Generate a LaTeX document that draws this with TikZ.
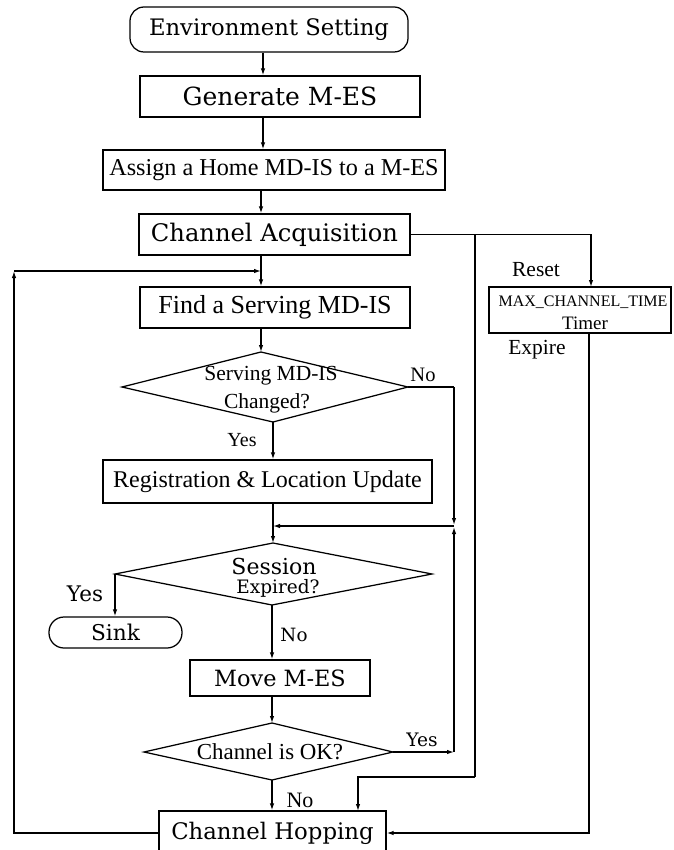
\documentclass[tikz,border=0pt]{standalone}
\usepackage{fontspec}
\setmainfont{Liberation Serif}
\newfontfamily\csfont{DejaVu Serif}
\usetikzlibrary{arrows.meta}
\newcommand\tm[1]{\fontsize{#1}{#1}\selectfont}
\newcommand\cs[1]{\csfont\fontsize{#1}{#1}\selectfont}

\begin{document}
\begin{tikzpicture}[x=1pt,y=-1pt,
  line width=1.25pt,
  box/.style={draw, rectangle, inner sep=0pt},
  term/.style={draw, rectangle, rounded corners=14pt, inner sep=0pt},
  lbl/.style={inner sep=0pt},
  arr/.style={-{Latex[length=7pt,width=4.5pt]}}
]
\useasboundingbox (0,0) rectangle (673,850);
\clip (0,0) rectangle (673,850);

% spine columns
\coordinate (cA) at (263,0);
\coordinate (cB) at (261,0);
\coordinate (cC) at (273,0);
\coordinate (cD) at (272,0);

% main column of steps
\node[term, minimum width=278, minimum height=45] (env) at (269,29.5) {\cs{22.7}Environment Setting};
\node[box, minimum width=280, minimum height=41] (gen) at (280,96.5) {\cs{25}Generate M-ES};
\node[box, minimum width=342, minimum height=40] (assign) at (274,170) {\tm{24.2}Assign a Home MD-IS to a M-ES};
\node[box, minimum width=271, minimum height=41] (acq) at (274.5,234.5) {\cs{24.2}Channel Acquisition};
\node[box, minimum width=270, minimum height=41] (find) at (275,307.5) {\tm{26}Find a Serving MD-IS};
\node[box, minimum width=329, minimum height=43] (reg) at (267.5,481.5) {\tm{24}Registration \& Location Update};
\node[term, minimum width=133, minimum height=31, rounded corners=15pt] (sink) at (115.5,632.5) {\cs{21.7}Sink};
\node[box, minimum width=180, minimum height=36] (move) at (280,678) {\cs{22.4}Move M-ES};
\node[box, minimum width=227, minimum height=44] (chop) at (272.5,833) {\cs{22.8}Channel Hopping};

% timer
\node[box, minimum width=182, minimum height=46] (timer) at (580,310) {};
\node[lbl] (tmax) at (583,302) {\tm{16}MAX\_CHANNEL\_TIME};
\node[lbl] (tname) at (585,323) {\tm{19}Timer};
\node[lbl] (reset) at (536,270) {\tm{21.5}Reset};
\node[lbl] (expire) at (537,350) {\tm{21.5}Expire};

% decision: serving MD-IS changed
\coordinate (d1t) at (261,352);
\coordinate (d1l) at (122,387);
\coordinate (d1r) at (408,387);
\coordinate (d1b) at (273,422);
\draw (d1t) -- (d1r) -- (d1b) -- (d1l) -- cycle;
\node[lbl] (d1a) at (271,376) {\tm{21.5}Serving MD-IS};
\node[lbl] (d1c) at (267,403) {\tm{21.5}Changed?};
\node[lbl] (d1no) at (423,375) {\tm{20.5}No};
\node[lbl] (d1yes) at (242,440) {\tm{20}Yes};

% decision: session expired
\coordinate (d2t) at (273,543);
\coordinate (d2l) at (115,574);
\coordinate (d2r) at (432,574);
\coordinate (d2b) at (272,605);
\draw (d2t) -- (d2r) -- (d2b) -- (d2l) -- cycle;
\node[lbl] (d2a) at (274,566) {\cs{22}Session};
\node[lbl] (d2c) at (278,588) {\cs{18.5}Expired?};
\node[lbl] (d2yes) at (85,594) {\cs{21.5}Yes};
\node[lbl] (d2no) at (294,635) {\cs{18.3}No};

% decision: channel is OK
\coordinate (d3t) at (272,723);
\coordinate (d3l) at (144,752);
\coordinate (d3r) at (393,752);
\coordinate (d3b) at (272,780);
\draw (d3t) -- (d3r) -- (d3b) -- (d3l) -- cycle;
\node[lbl] (d3a) at (270,752) {\tm{22.9}Channel is OK?};
\node[lbl] (d3yes) at (422,740) {\cs{18.6}Yes};
\node[lbl] (d3no) at (300,800) {\tm{22}No};

% routing points
\coordinate (fbc) at (14,271);
\coordinate (fbin) at (261,271);
\coordinate (nc) at (454,387);
\coordinate (mg) at (454,526);
\coordinate (mgin) at (273,526);
\coordinate (yc) at (454,752);
\coordinate (br) at (475,234.5);
\coordinate (brc) at (475,777);
\coordinate (hopin) at (358,811);
\coordinate (rst) at (591,287);
\coordinate (tout) at (589,333);

% main flow
\draw[arr] (env.south -| cA) -- (gen.north -| cA);
\draw[arr] (gen.south -| cA) -- (assign.north -| cA);
\draw[arr] (assign.south -| cB) -- (acq.north -| cB);
\draw[arr] (acq.south -| cB) -- (find.north -| cB);
\draw[arr] (find.south -| cB) -- (d1t);
\draw[arr] (d1b) -- (reg.north -| d1b);
\draw[arr] (reg.south -| cC) -- (d2t);
\draw[arr] (d2l) -- (sink.north -| d2l);
\draw[arr] (d2b) -- (move.north -| d2b);
\draw[arr] (move.south -| cD) -- (d3t);
\draw[arr] (d3b) -- (chop.north -| d3b);

% side paths
\draw (d1r) -- (nc);
\draw[arr, shorten >=1pt] (nc) -- (mg);
\draw[arr] (d3r) -- (yc);
\draw[arr, shorten >=1pt] (yc) -- (mg);
\draw[arr] (mg) -- (mgin);
\draw[arr] (chop.west) -| (fbc);
\draw[arr] (fbc) -- (fbin);
\draw[arr] (acq.east) -| (rst);
\draw (br) -- (brc);
\draw[arr] (brc) -| (hopin);
\draw[arr] (tout) |- (chop.east);
\end{tikzpicture}
\end{document}
